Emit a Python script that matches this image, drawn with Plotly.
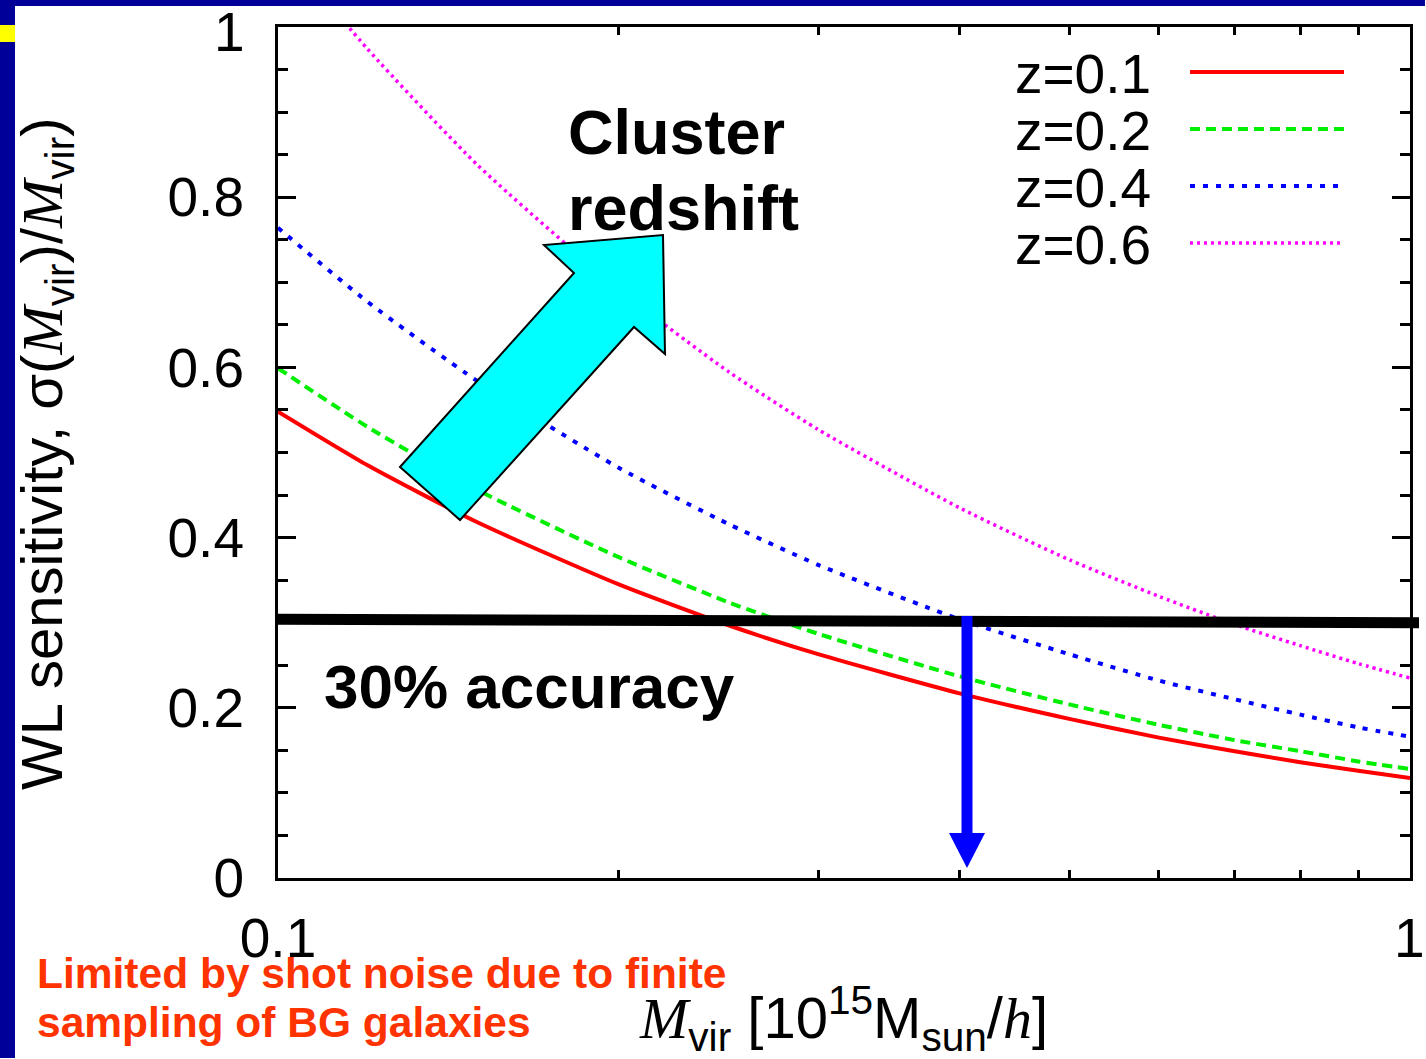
import plotly.graph_objects as go

# Virial mass grid [10^15 Msun/h] and weak-lensing mass sensitivity per cluster redshift
mass = [0.1, 0.12, 0.15, 0.2, 0.25, 0.3, 0.4, 0.5, 0.6, 0.7, 0.8, 0.9, 1.0]
sigma_z01 = [0.548, 0.485, 0.418, 0.345, 0.297, 0.263, 0.217, 0.187, 0.165, 0.149, 0.136, 0.126, 0.1175]
sigma_z02 = [0.599, 0.530, 0.456, 0.377, 0.324, 0.287, 0.237, 0.204, 0.180, 0.162, 0.149, 0.137, 0.128]
sigma_z04 = [0.764, 0.677, 0.584, 0.482, 0.416, 0.368, 0.304, 0.263, 0.232, 0.210, 0.192, 0.177, 0.166]
sigma_z06 = [1.10, 0.974, 0.838, 0.692, 0.595, 0.527, 0.435, 0.374, 0.331, 0.298, 0.273, 0.252, 0.235]
series_labels = ["z=0.1", "z=0.2", "z=0.4", "z=0.6"]

accuracy_level = 0.3
x_tick_vals = [0.1, 1]
x_tick_text = ["0.1", "1"]
x_minor_vals = [0.2, 0.3, 0.4, 0.5, 0.6, 0.7, 0.8, 0.9]
y_tick_vals = [0, 0.2, 0.4, 0.6, 0.8, 1.0]
y_tick_text = ["0", "0.2", "0.4", "0.6", "0.8", "1"]

W, H = 1426, 1059
L, R, T, B = 278, 1410, 27, 878  # plot-area edges in page pixels


def px(x):
    return (x - L) / (R - L)


def py(y):
    return (B - y) / (B - T)


SANS = "Liberation Sans, Arial, sans-serif"
SERIF = "Liberation Serif, Times New Roman, serif"
TICK_FONT = dict(family=SANS, size=55, color="black")

styles = [
    dict(color="#ff0000", width=4, dash="solid"),
    dict(color="#00ee00", width=4, dash="10px,6px"),
    dict(color="#0000ff", width=4, dash="5px,8px"),
    dict(color="#ff00ff", width=3.5, dash="3px,4px"),
]

fig = go.Figure()
for name, ys, st in zip(series_labels, [sigma_z01, sigma_z02, sigma_z04, sigma_z06], styles):
    fig.add_trace(go.Scatter(x=mass, y=ys, mode="lines", name=name,
                             line=dict(shape="spline", smoothing=0.6, **st),
                             showlegend=False, hoverinfo="skip"))

shapes = []
annotations = []

# slide frame: navy bands and yellow marker
navy = "#000099"
shapes.append(dict(type="rect", xref="paper", yref="paper", x0=px(0), x1=px(W - 1), y0=py(6), y1=py(0),
                   fillcolor=navy, line=dict(width=0), layer="above"))
shapes.append(dict(type="rect", xref="paper", yref="paper", x0=px(0), x1=px(15), y0=py(H - 1), y1=py(0),
                   fillcolor=navy, line=dict(width=0), layer="above"))
shapes.append(dict(type="rect", xref="paper", yref="paper", x0=px(0), x1=px(15), y0=py(42), y1=py(25),
                   fillcolor="#ffff00", line=dict(width=0), layer="above"))

# 30% accuracy threshold line
shapes.append(dict(type="line", xref="paper", yref="y", x0=0, x1=px(1419),
                   y0=accuracy_level + 0.004, y1=accuracy_level,
                   line=dict(color="black", width=11), layer="above"))

# big cyan arrow pointing toward higher redshift
arrow_pts = [(400, 467), (460, 520), (634, 327), (665, 354), (663, 235), (544, 245), (574, 273)]
path = "M " + " L ".join(f"{px(a):.5f},{py(b):.5f}" for a, b in arrow_pts) + " Z"
shapes.append(dict(type="path", xref="paper", yref="paper", path=path,
                   fillcolor="#00ffff", line=dict(color="black", width=2), layer="above"))

# blue downward arrow marking the mass threshold
shapes.append(dict(type="rect", xref="paper", yref="paper", x0=px(961.5), x1=px(972.5), y0=py(835), y1=py(616),
                   fillcolor="#0000ff", line=dict(width=0), layer="above"))
head = [(949, 833), (985, 833), (967, 868)]
shapes.append(dict(type="path", xref="paper", yref="paper",
                   path="M " + " L ".join(f"{px(a):.5f},{py(b):.5f}" for a, b in head) + " Z",
                   fillcolor="#0000ff", line=dict(width=0), layer="above"))

# legend, drawn by hand with long line samples
leg_y = [72, 129, 186, 243]
for name, st, yy in zip(series_labels, styles, leg_y):
    shapes.append(dict(type="line", xref="paper", yref="paper", x0=px(1190), x1=px(1344), y0=py(yy), y1=py(yy),
                       line=dict(color=st["color"], width=st["width"], dash=st["dash"]), layer="above"))
    annotations.append(dict(xref="paper", yref="paper", x=px(1013), y=py(yy + 2), xanchor="left", yanchor="middle",
                            text=name, showarrow=False, font=dict(family=SANS, size=55, color="black")))

# the end-of-range tick labels sit against the page edges, so they are placed as annotations
annotations += [
    dict(xref="paper", yref="y", x=px(246), y=y_tick_vals[-1], xanchor="right", yanchor="top", yshift=27,
         text=y_tick_text[-1], showarrow=False, font=TICK_FONT, borderpad=0),
    dict(xref="x", yref="paper", x=0, y=py(906), xanchor="right", yanchor="top", xshift=16,
         text=x_tick_text[-1], showarrow=False, font=TICK_FONT, borderpad=0),
]

# labels on the chart
annotations += [
    dict(xref="paper", yref="paper", x=px(566), y=py(132), xanchor="left", yanchor="middle",
         text="<b>Cluster</b>", showarrow=False, font=dict(family=SANS, size=63, color="black")),
    dict(xref="paper", yref="paper", x=px(566), y=py(208), xanchor="left", yanchor="middle",
         text="<b>redshift</b>", showarrow=False, font=dict(family=SANS, size=63, color="black")),
    dict(xref="paper", yref="paper", x=px(322), y=py(686), xanchor="left", yanchor="middle",
         text="<b>30% accuracy</b>", showarrow=False, font=dict(family=SANS, size=62, color="black")),
    dict(xref="paper", yref="paper", x=px(35), y=py(973), xanchor="left", yanchor="middle",
         text="<b>Limited by shot noise due to finite</b>", showarrow=False,
         font=dict(family=SANS, size=42.5, color="#ff3300")),
    dict(xref="paper", yref="paper", x=px(35), y=py(1022), xanchor="left", yanchor="middle",
         text="<b>sampling of BG galaxies</b>", showarrow=False,
         font=dict(family=SANS, size=42.5, color="#ff3300")),
    # axis titles
    dict(xref="paper", yref="paper", x=px(843), y=py(1018), xanchor="center", yanchor="middle",
         text=(f"<span style='font-family:{SERIF}'><i>M</i></span><sub>vir</sub> [10<sup>15</sup>M<sub>sun</sub>/"
               f"<span style='font-family:{SERIF}'><i>h</i></span>]"),
         showarrow=False, font=dict(family=SANS, size=58, color="black")),
    dict(xref="paper", yref="paper", x=px(46), y=py(454), xanchor="center", yanchor="middle", textangle=-90,
         text=(f"WL sensitivity, σ(<span style='font-family:{SERIF}'><i>M</i></span><sub>vir</sub>)/"
               f"<span style='font-family:{SERIF}'><i>M</i></span><sub>vir</sub>)"),
         showarrow=False, font=dict(family=SANS, size=58, color="black")),
]

axis_common = dict(showline=True, linecolor="black", linewidth=3, mirror="ticks", ticks="inside",
                   tickcolor="black", tickwidth=2.5, showgrid=False, zeroline=False,
                   tickfont=TICK_FONT)

fig.update_layout(
    width=W, height=H,
    margin=dict(l=L, r=W - R, t=T, b=H - B, pad=0),
    paper_bgcolor="white", plot_bgcolor="white",
    showlegend=False,
    xaxis=dict(type="log", range=[-1, 0], tickmode="array", tickvals=x_tick_vals,
               ticktext=x_tick_text[:-1] + [""],
               ticklen=8, ticklabelstandoff=10,
               minor=dict(tickmode="array", tickvals=x_minor_vals, ticks="inside", ticklen=8,
                          tickwidth=2.5, tickcolor="black"),
               **axis_common),
    yaxis=dict(range=[0, 1], tickmode="array", tickvals=y_tick_vals,
               ticktext=y_tick_text[:-1] + [""],
               ticklen=18, ticklabelstandoff=20,
               minor=dict(dtick=0.05, ticks="inside", ticklen=10, tickwidth=2.5, tickcolor="black"),
               **axis_common),
    shapes=shapes,
    annotations=annotations,
)

fig.write_html("out.html")
